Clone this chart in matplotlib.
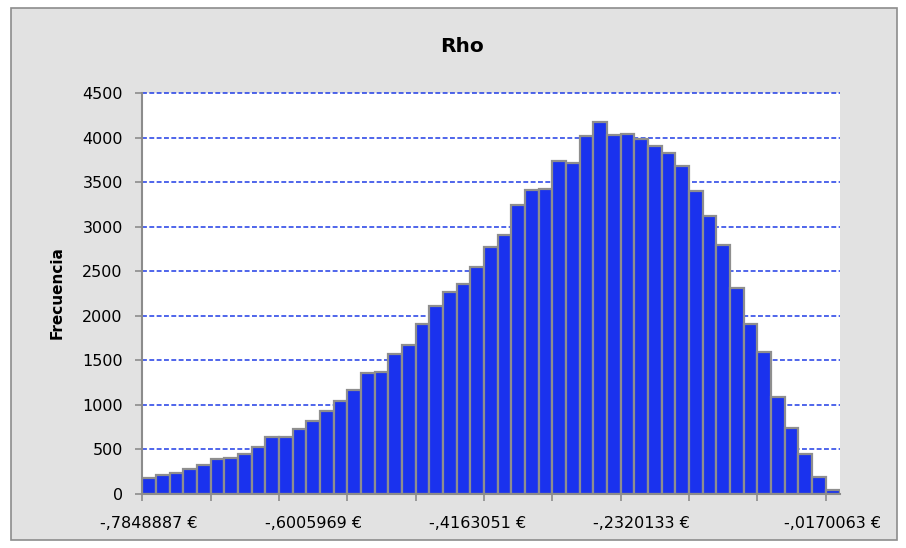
import matplotlib
matplotlib.use("Agg")
import matplotlib.pyplot as plt
from matplotlib.patches import Rectangle

# frequency per bin (51 bins)
counts = [176, 217, 232, 281, 322, 393, 408, 449, 531, 637,
          644, 727, 818, 928, 1048, 1168, 1359, 1370, 1569, 1670,
          1906, 2115, 2272, 2362, 2542, 2774, 2912, 3245, 3414, 3425,
          3732, 3713, 4021, 4170, 4024, 4043, 3979, 3901, 3826, 3684,
          3403, 3115, 2796, 2310, 1906, 1591, 1093, 745, 449, 187,
          45]
label_bins = [0, 12, 24, 36, 50]
label_text = ["-,7848887 €", "-,6005969 €", "-,4163051 €", "-,2320133 €", "-,0170063 €"]
y_ticks = [0, 500, 1000, 1500, 2000, 2500, 3000, 3500, 4000, 4500]

W, H = 906, 548
fig = plt.figure(figsize=(W / 100, H / 100), dpi=100, facecolor="white")

# chart area frame
fig.patches.append(Rectangle((11 / W, 8 / H), 886 / W, 532 / H,
                             transform=fig.transFigure, facecolor="#E2E2E2",
                             edgecolor="#8C8C8C", linewidth=1.2, zorder=-10))

ax = fig.add_axes([142.3 / W, 54 / H, 697.2 / W, 401 / H])
ax.set_zorder(1)
ax.set_facecolor("white")

x = list(range(len(counts)))
ax.bar(x, counts, width=1.0, color="#1A32EE", edgecolor="#8E8E8E",
       linewidth=1.6, zorder=3)

ax.set_xlim(-0.5, len(counts) - 0.5)
ax.set_ylim(0, 4500)

# y axis
ax.set_yticks(y_ticks)
ax.set_yticklabels([str(v) for v in y_ticks])
for v in y_ticks[1:]:
    ax.axhline(v, color="#1F3CE6", linewidth=1.1, linestyle=(0, (3.2, 1.6)),
               zorder=1, clip_on=False)

# x axis: tick marks every 5 bins at the bin edges, labels on chosen bins
ax.set_xticks([k * 5 - 0.5 for k in range(11)])
ax.set_xticklabels([])
ax.set_xticks(label_bins, minor=True)
ax.set_xticklabels(label_text, minor=True)

ax.tick_params(axis="y", which="major", length=5, width=1.2, color="#8C8C8C",
               labelsize=11.5, pad=9)
ax.tick_params(axis="x", which="major", length=5, width=1.2, color="#8C8C8C")
ax.tick_params(axis="x", which="minor", length=0, labelsize=11.5, pad=16)

for side in ["top", "right"]:
    ax.spines[side].set_visible(False)
for side in ["left", "bottom"]:
    ax.spines[side].set_color("#8C8C8C")
    ax.spines[side].set_linewidth(1.5)
    ax.spines[side].set_zorder(4)

fig.text(462 / W, 1 - 47 / H, "Rho", ha="center", va="center",
         fontsize=14.5, fontweight="bold")
fig.text(57 / W, 1 - 293 / H, "Frecuencia", ha="center", va="center",
         rotation=90, fontsize=11, fontweight="bold")

fig.savefig("out.png", dpi=100, facecolor=fig.get_facecolor())
